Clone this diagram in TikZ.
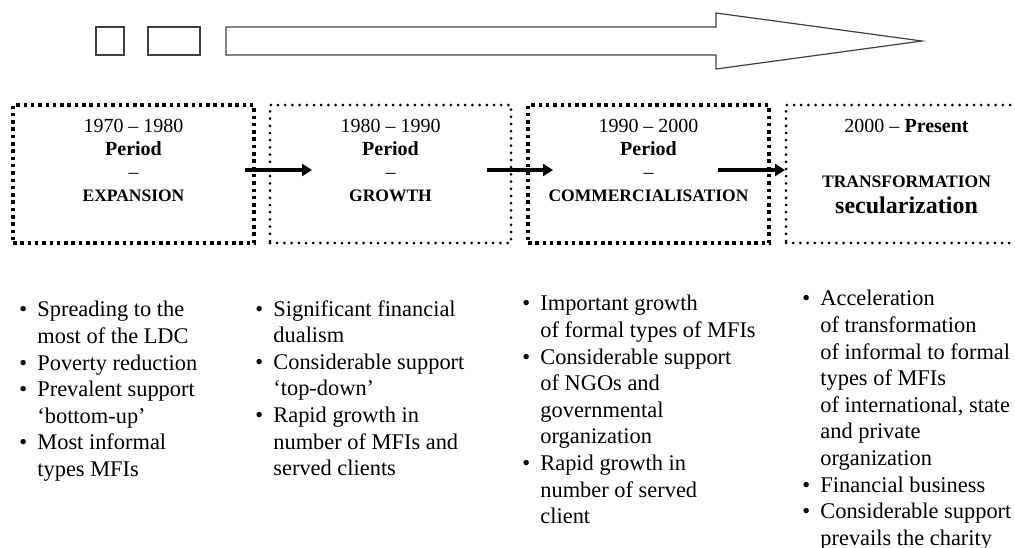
\documentclass[tikz,border=0pt]{standalone}
\usepackage{fontspec}
\setmainfont{Liberation Serif}
\usetikzlibrary{positioning}
\usetikzlibrary{arrows.meta}

\newcommand{\bitem}{\makebox[9pt][l]{\textbullet}}
\newcommand{\bcont}{\hspace*{9pt}}
\newcommand{\capsize}{\fontsize{8.75}{11.5}\selectfont}

\begin{document}
\begin{tikzpicture}[x=0.5pt,y=-0.5pt,
  period/.style={minimum width=120.5pt, minimum height=69pt, inner sep=0pt, outer sep=0pt},
  squaredots/.style={period, draw, line width=1.75pt, dash pattern=on 1.75pt off 1.9pt},
  rounddots/.style={period, draw, line width=1.5pt, line cap=round, dash pattern=on 0pt off 3.6pt},
  head/.style={align=center, inner sep=0pt, anchor=north, font=\fontsize{10}{11.5}\selectfont},
  points/.style={align=left, inner sep=0pt, anchor=north west, font=\fontsize{11.2}{13.3}\selectfont},
  flow/.style={line width=2pt, -{Triangle[length=5pt,width=6pt]}},
  outline/.style={draw=black!75, line width=0.6pt}]
  \useasboundingbox (0,0) rectangle (1015,547);
  \clip (0,0) rectangle (1015,547);

  % time line on top
  \draw[outline] (96,27) rectangle (124,55);
  \draw[outline] (148,27) rectangle (200,55);
  \draw[outline] (226,27) -- (716,27) -- (716,13) -- (922,41) -- (716,69) -- (716,55) -- (226,55) -- cycle;

  % the four periods
  \node[squaredots] (b1) at (133.5,174) {};
  \node[rounddots, right=8pt of b1] (b2) {};
  \node[squaredots, right=8.5pt of b2] (b3) {};
  \node[rounddots, right=8.5pt of b3] (b4) {};

  \node[head] (h1) at ([yshift=-6.75pt]b1.north) {1970 -- 1980\\ \textbf{Period}\\ --\\ \textbf{\capsize EXPANSION}};
  \node[head] (h2) at ([yshift=-6.75pt]b2.north) {1980 -- 1990\\ \textbf{Period}\\ --\\ \textbf{\capsize GROWTH}};
  \node[head] (h3) at ([yshift=-6.75pt]b3.north) {1990 -- 2000\\ \textbf{Period}\\ --\\ \textbf{\capsize COMMERCIALISATION}};
  \node[head] (h4) at ([yshift=-6.75pt]b4.north) {2000 -- \textbf{Present}\\[16pt] \textbf{\capsize TRANSFORMATION}\\[1.5pt] \textbf{\fontsize{12}{13}\selectfont secularization}};

  % arrows between the periods
  \draw[flow] ([xshift=-4.5pt,yshift=2pt]b1.east) -- ([xshift=21pt,yshift=2pt]b2.west);
  \draw[flow] ([xshift=-12pt,yshift=2pt]b2.east) -- ([xshift=12.5pt,yshift=2pt]b3.west);
  \draw[flow] ([xshift=-25.5pt,yshift=2pt]b3.east) -- ([xshift=-0.5pt,yshift=2pt]b4.west);

  % features of each period
  \node[points] (l1) at (19,301) {\bitem Spreading to the\\ \bcont most of the LDC\\ \bitem Poverty reduction\\ \bitem Prevalent support\\ \bcont `bottom-up'\\ \bitem Most informal\\ \bcont types MFIs};
  \node[points] (l2) at (255,300) {\bitem Significant financial\\ \bcont dualism\\ \bitem Considerable support\\ \bcont `top-down'\\ \bitem Rapid growth in\\ \bcont number of MFIs and\\ \bcont served clients};
  \node[points] (l3) at (522,295) {\bitem Important growth\\ \bcont of formal types of MFIs\\ \bitem Considerable support\\ \bcont of NGOs and\\ \bcont governmental\\ \bcont organization\\ \bitem Rapid growth in\\ \bcont number of served\\ \bcont client};
  \node[points] (l4) at (802,290) {\bitem Acceleration\\ \bcont of transformation\\ \bcont of informal to formal\\ \bcont types of MFIs\\ \bcont of international, state\\ \bcont and private\\ \bcont organization\\ \bitem Financial business\\ \bitem Considerable support\\ \bcont prevails the charity};
\end{tikzpicture}
\end{document}
